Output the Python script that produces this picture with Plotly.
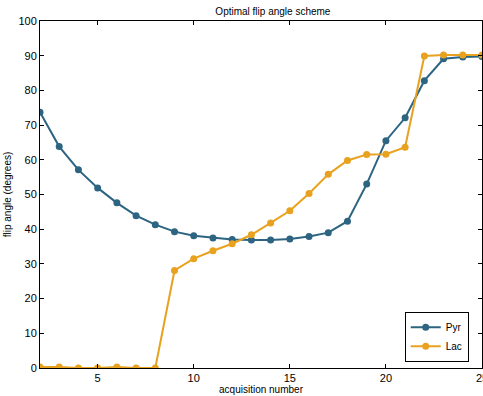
import plotly.graph_objects as go

acq = list(range(2, 26))
pyr = [73.7, 63.8, 57.1, 51.9, 47.6, 43.9, 41.3, 39.3, 38.1, 37.5, 37.0, 36.9,
       36.9, 37.2, 37.9, 39.0, 42.3, 53.0, 65.5, 72.1, 82.8, 89.1, 89.6, 89.8]
lac = [0.3, 0.3, 0.0, 0.0, 0.3, 0.0, 0.0, 28.1, 31.5, 33.8, 35.8, 38.4,
       41.8, 45.3, 50.3, 55.8, 59.8, 61.5, 61.6, 63.6, 89.9, 90.2, 90.2, 90.2]
x_ticks = [5, 10, 15, 20, 25]
y_ticks = [0, 10, 20, 30, 40, 50, 60, 70, 80, 90, 100]

PYR_C = "#2c6482"
LAC_C = "#e8a21f"
FONT = "Liberation Sans"

fig = go.Figure()
fig.add_trace(go.Scatter(x=acq, y=pyr, name="Pyr", mode="lines+markers",
                         line=dict(color=PYR_C, width=2),
                         marker=dict(color=PYR_C, size=7)))
fig.add_trace(go.Scatter(x=acq, y=lac, name="Lac", mode="lines+markers",
                         line=dict(color=LAC_C, width=2),
                         marker=dict(color=LAC_C, size=7)))

axis_common = dict(showgrid=False, zeroline=False, showline=True, linecolor="black",
                   linewidth=1, mirror="ticks", ticks="inside", ticklen=4,
                   tickcolor="black", automargin=False, ticklabeloverflow="allow",
                   tickfont=dict(family=FONT, size=11, color="black"))

fig.update_layout(
    width=483, height=396,
    margin=dict(l=40, r=1, t=21, b=28),
    paper_bgcolor="white", plot_bgcolor="white",
    title=dict(text="Optimal flip angle scheme", x=0.565, xanchor="center",
               y=0.972, yanchor="middle",
               font=dict(family=FONT, size=10, color="black")),
    xaxis=dict(range=[2, 25], tickvals=x_ticks,
               title=dict(text="acquisition number", standoff=0,
                          font=dict(family=FONT, size=10, color="black")),
               **axis_common),
    yaxis=dict(range=[0, 100], tickvals=y_ticks,
               title=dict(text="flip angle (degrees)", standoff=4,
                          font=dict(family=FONT, size=10, color="black")),
               **axis_common),
    legend=dict(x=0.97, y=0.018, xanchor="right", yanchor="bottom",
                bordercolor="black", borderwidth=1, bgcolor="white",
                font=dict(family=FONT, size=10, color="black"),
                tracegroupgap=0, itemwidth=30),
    showlegend=True,
)

fig.write_html("out.html", config={"displayModeBar": False},
               post_script="document.body.style.margin='0';document.body.style.overflow='hidden';")
